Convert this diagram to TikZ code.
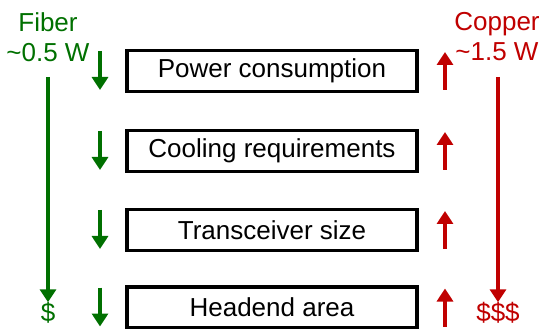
\documentclass[tikz,border=0pt]{standalone}
\usepackage{fontspec}
\setmainfont{Liberation Sans}
\usetikzlibrary{arrows.meta}
\definecolor{fgreen}{RGB}{0,112,0}
\definecolor{cred}{RGB}{192,0,0}
\begin{document}
\begin{tikzpicture}[x=1pt,y=-1pt,
  item/.style={draw=black,line width=3.2pt,minimum width=290pt,minimum height=41pt,inner sep=0pt,font=\fontsize{26}{28}\selectfont},
  lbl/.style={font=\fontsize{26}{30}\selectfont,align=center,inner sep=0pt},
  arr/.style={line width=3.5pt,-{Triangle[width=16pt,length=13pt]}}]
\useasboundingbox (0,0) rectangle (542,329);
\node[item] (b1) at (272,71) {Power consumption};
\node[item] (b2) at (272,151) {Cooling requirements};
\node[item] (b3) at (272,230) {Transceiver size};
\node[item] (b4) at (272,307.5) {Headend area};
\node[lbl,text=fgreen] (fib) at (48,37) {Fiber\\\textasciitilde0.5 W};
\node[lbl,text=cred] (cop) at (497,37) {Copper\\\textasciitilde1.5 W};
\node[lbl,text=fgreen] (d1) at (48,313) {\$};
\node[lbl,text=cred] (d3) at (498,313) {\$\$\$};
\coordinate (fs) at (48,77);
\coordinate (cs) at (498,77);
\draw[arr,fgreen] (fs) -- (d1.north);
\draw[arr,cred] (cs) -- (d3.north);
\foreach \i in {1,2,3,4}{
  \draw[arr,fgreen] ([yshift=20pt]b\i.center -| 100,0) -- ([yshift=-19pt]b\i.center -| 100,0);
  \draw[arr,cred] ([yshift=-19pt]b\i.center -| 445,0) -- ([yshift=19pt]b\i.center -| 445,0);
}
\end{tikzpicture}
\end{document}
